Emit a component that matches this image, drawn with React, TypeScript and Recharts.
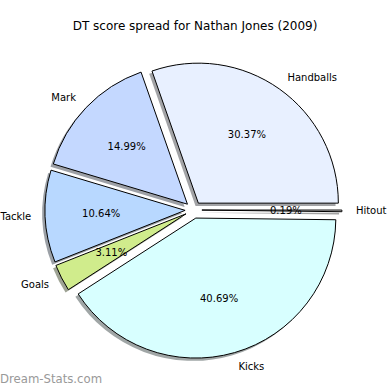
import React from 'react';
import { PieChart, Pie, Cell } from 'recharts';

// slice order follows the picture, counter-clockwise from 3 o'clock
const categories = ['Handballs', 'Mark', 'Tackle', 'Goals', 'Kicks', 'Hitout'];
const shares = [30.37, 14.99, 10.64, 3.11, 40.69, 0.19];
const sliceColors = ['#e8f0ff', '#c4d8ff', '#b8d8ff', '#d0ec8c', '#d8ffff', '#f0f0f0'];

const data = categories.map((name, i) => ({ name, value: shares[i] }));

const W = 390;
const H = 390;
const CX = 193.5;
const CY = 210;
const R = 140;
const EXPLODE = 0.06 * R;
const SHADOW_DX = -2.8;
const SHADOW_DY = 2.8;
const FONT = '"DejaVu Sans", Verdana, sans-serif';
const RAD = Math.PI / 180;

const total = shares.reduce((a, b) => a + b, 0);
let acc = 0;
const midAngles = shares.map((v) => {
  const start = (acc / total) * 360;
  acc += v;
  return (start + (acc / total) * 360) / 2;
});

// matplotlib shadow: 0.3 * face colour, half transparent
function shadowOf(hex: string) {
  const n = parseInt(hex.slice(1), 16);
  const r = Math.round(((n >> 16) & 255) * 0.3);
  const g = Math.round(((n >> 8) & 255) * 0.3);
  const b = Math.round((n & 255) * 0.3);
  return `rgb(${r},${g},${b})`;
}

const makeLabel = (i: number) => (props: any) => {
  if (props.index !== i) return null;
  const { cx, cy, midAngle, outerRadius } = props;
  const c = Math.cos(midAngle * RAD);
  const s = Math.sin(midAngle * RAD);
  const lx = cx + outerRadius * 1.1 * c;
  const ly = cy - outerRadius * 1.1 * s;
  const px = cx + outerRadius * 0.6 * c;
  const py = cy - outerRadius * 0.6 * s;
  return (
    <g key={`lbl-${i}`}>
      <text x={lx} y={ly} textAnchor={c >= 0 ? 'start' : 'end'} dominantBaseline="central"
        fontFamily={FONT} fontSize={10} fill="#000">
        {categories[i]}
      </text>
      <text x={px} y={py} textAnchor="middle" dominantBaseline="central"
        fontFamily={FONT} fontSize={10} fill="#000">
        {`${shares[i].toFixed(2)}%`}
      </text>
    </g>
  );
};

export default function App() {
  const offsets = midAngles.map((a) => ({
    x: CX + EXPLODE * Math.cos(a * RAD),
    y: CY - EXPLODE * Math.sin(a * RAD),
  }));

  return (
    <div style={{ position: 'absolute', left: 0, top: 0, width: W, height: H, background: '#fff' }}>
      <div style={{ position: 'absolute', left: 0, top: 18, width: W, textAlign: 'center',
        fontFamily: FONT, fontSize: 12, color: '#000', lineHeight: '16px' }}>
        DT score spread for Nathan Jones (2009)
      </div>
      <PieChart width={W} height={H} margin={{ top: 0, right: 0, bottom: 0, left: 0 }}>
        {offsets.map((o, i) => (
          <Pie key={`shadow-${i}`} data={data} dataKey="value" nameKey="name"
            cx={o.x + SHADOW_DX} cy={o.y + SHADOW_DY} outerRadius={R}
            startAngle={0} endAngle={360} isAnimationActive={false} labelLine={false} label={false}>
            {data.map((d, j) => (
              <Cell key={d.name} fill={j === i ? shadowOf(sliceColors[j]) : 'none'}
                fillOpacity={0.5} stroke="none" />
            ))}
          </Pie>
        ))}
        {offsets.map((o, i) => (
          <Pie key={`slice-${i}`} data={data} dataKey="value" nameKey="name"
            cx={o.x} cy={o.y} outerRadius={R}
            startAngle={0} endAngle={360} isAnimationActive={false}
            labelLine={false} label={makeLabel(i)}>
            {data.map((d, j) => (
              <Cell key={d.name} fill={j === i ? sliceColors[j] : 'none'}
                stroke={j === i ? '#000' : 'none'} strokeWidth={1} />
            ))}
          </Pie>
        ))}
      </PieChart>
      <div style={{ position: 'absolute', left: 0, top: 371, fontFamily: '"DejaVu Sans Condensed", "DejaVu Sans", sans-serif',
        fontSize: 13, color: '#999', lineHeight: '16px' }}>
        Dream-Stats.com
      </div>
    </div>
  );
}
